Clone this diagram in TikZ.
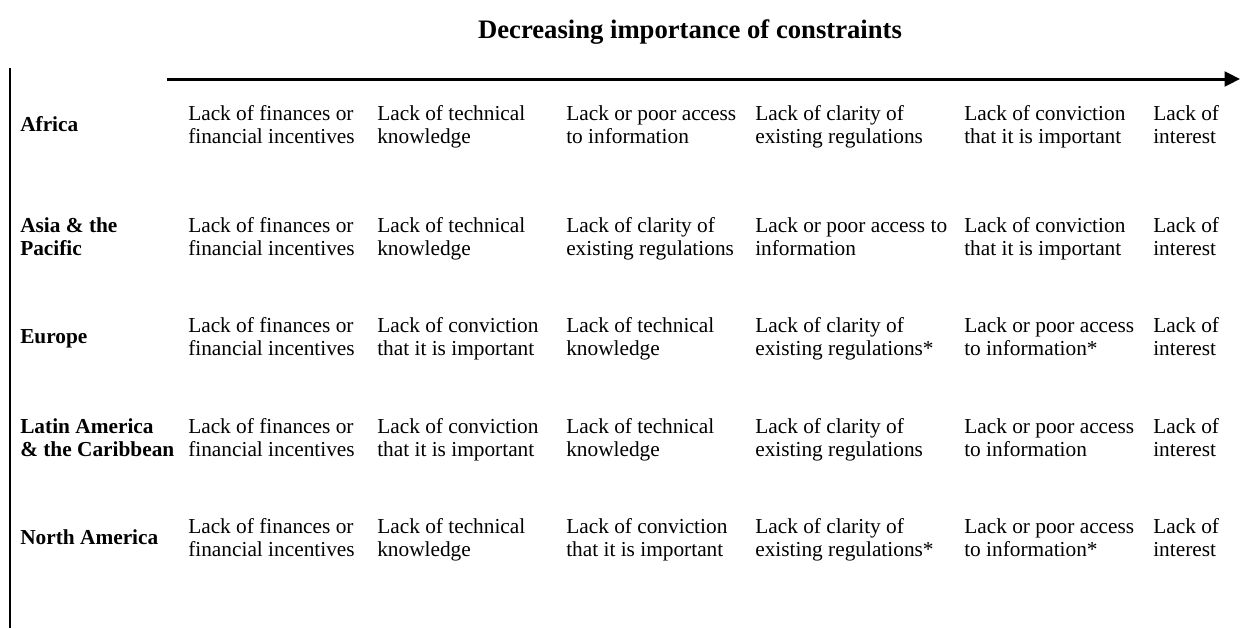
\documentclass[tikz,border=0pt]{standalone}
\usepackage{fontspec}
\setmainfont{Liberation Serif}
\usepackage{tikz}
\usetikzlibrary{arrows.meta}
\tikzset{
  cons/.style={anchor=base west, inner sep=0pt, align=left, font=\fontsize{16}{17.25}\selectfont},
  region/.style={cons, font=\fontsize{16}{17.25}\selectfont\bfseries}
}
\newcommand{\cons}[4]{ \node[cons] (#1) at ( #2 , #3 ) {#4};}
\newcommand{\region}[4]{ \node[region] (#1) at ( #2 , #3 ) {#4};}

\begin{document}
\begin{tikzpicture}[x=0.75pt, y=-0.75pt]
        \useasboundingbox (0,0) rectangle (1248,628);
        % title and axes
        \node[anchor=base, inner sep=0pt, font=\fontsize{20}{24}\selectfont\bfseries] (title) at (690,38) {Decreasing importance of constraints};
        \coordinate (top) at (10,68);
        \coordinate (bot) at (10,628);
        \draw[line width=1.5pt] (top) -- (bot);
        \coordinate (start) at (167,79);
        \coordinate (end) at (1240,79);
        \draw[line width=2.25pt, -{Triangle[length=11.5pt, width=11pt]}] (start) -- (end);
        % row1
        \region{africa}{20}{131}{Africa}
        \cons{a1}{188}{143}{Lack of finances or\\financial incentives}
        \cons{a2}{377}{143}{Lack of technical\\knowledge}
        \cons{a3}{566}{143}{Lack or poor access\\to information}
        \cons{a4}{755}{143}{Lack of clarity of\\existing regulations}
        \cons{a5}{964}{143}{Lack of conviction\\that it is important}
        \cons{a6}{1153}{143}{Lack of\\interest}
        % row2
        \region{asia}{20}{255}{Asia \& the\\Pacific}
        \cons{b1}{188}{255}{Lack of finances or\\financial incentives}
        \cons{b2}{377}{255}{Lack of technical\\knowledge}
        \cons{b3}{566}{255}{Lack of clarity of\\existing regulations}
        \cons{b4}{755}{255}{Lack or poor access to\\information}
        \cons{b5}{964}{255}{Lack of conviction\\that it is important}
        \cons{b6}{1153}{255}{Lack of\\interest}
        % row3
        \region{europe}{20}{343}{Europe}
        \cons{c1}{188}{355}{Lack of finances or\\financial incentives}
        \cons{c2}{377}{355}{Lack of conviction\\that it is important}
        \cons{c3}{566}{355}{Lack of technical\\knowledge}
        \cons{c4}{755}{355}{Lack of clarity of\\existing regulations*}
        \cons{c5}{964}{355}{Lack or poor access\\to information*}
        \cons{c6}{1153}{355}{Lack of\\interest}
        % row4
        \region{latin}{20}{456}{Latin America\\\& the Caribbean}
        \cons{d1}{188}{456}{Lack of finances or\\financial incentives}
        \cons{d2}{377}{456}{Lack of conviction\\that it is important}
        \cons{d3}{566}{456}{Lack of technical\\knowledge}
        \cons{d4}{755}{456}{Lack of clarity of\\existing regulations}
        \cons{d5}{964}{456}{Lack or poor access\\to information}
        \cons{d6}{1153}{456}{Lack of\\interest}
        % row5
        \region{north}{20}{544}{North America}
        \cons{e1}{188}{556}{Lack of finances or\\financial incentives}
        \cons{e2}{377}{556}{Lack of technical\\knowledge}
        \cons{e3}{566}{556}{Lack of conviction\\that it is important}
        \cons{e4}{755}{556}{Lack of clarity of\\existing regulations*}
        \cons{e5}{964}{556}{Lack or poor access\\to information*}
        \cons{e6}{1153}{556}{Lack of\\interest}
\end{tikzpicture}
\end{document}
